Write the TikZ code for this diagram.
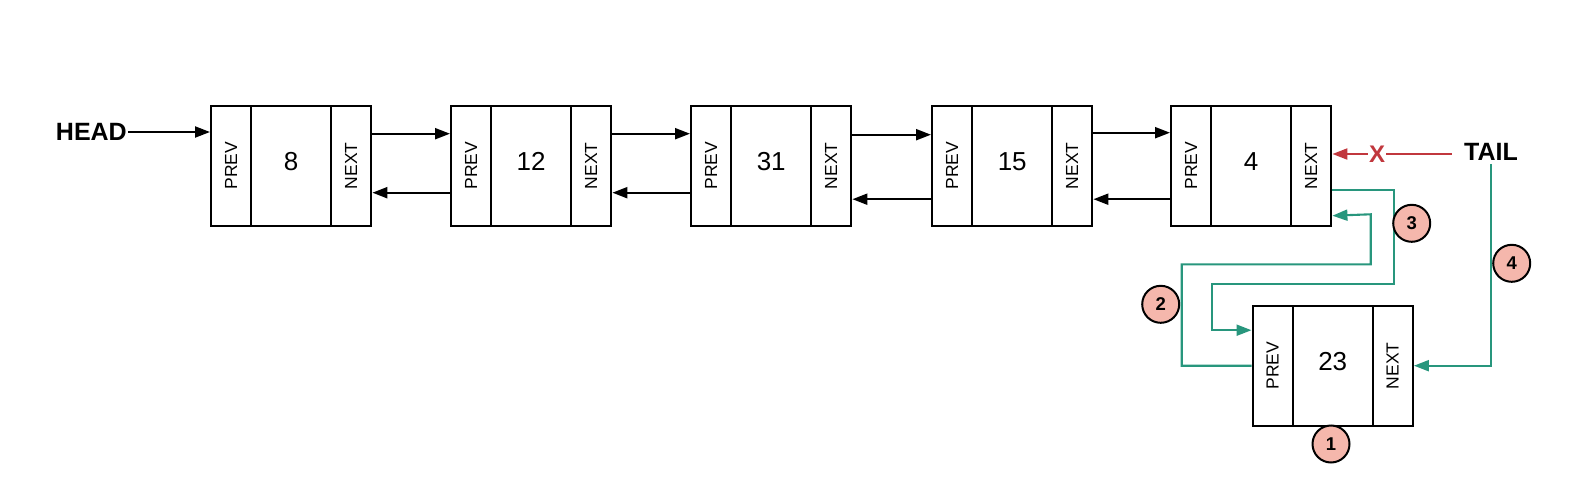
\documentclass[tikz,border=0pt]{standalone}
\usepackage{fontspec}
\setmainfont{Liberation Sans}
\usepackage{graphicx}
\usetikzlibrary{arrows.meta}
\definecolor{tgreen}{RGB}{40,150,125}
\definecolor{tred}{RGB}{193,55,61}
\definecolor{salmon}{RGB}{245,183,172}
\tikzset{
  cell/.style={draw, line width=2.4pt, inner sep=0pt, minimum height=120pt, anchor=north west},
  side/.style={cell, minimum width=40pt, font=\fontsize{17.5}{17.5}\selectfont},
  mid/.style={cell, minimum width=80pt, font=\fontsize{26}{26}\selectfont, text height=18.5pt, text depth=9.5pt},
  arr/.style={-{Triangle[length=15pt,width=11pt]}, line width=2.1pt},
  garr/.style={arr, draw=tgreen, color=tgreen, line width=2.1pt},
  badge/.style={circle, draw, line width=2pt, fill=salmon, minimum size=37pt, inner sep=0pt, font=\bfseries\fontsize{18.5}{18.5}\selectfont},
  lbl/.style={font=\bfseries\fontsize{25}{25}\selectfont}
}
\newcommand{\listel}[4]{%
  \node[side] (#1p) at (#2,#3) {\rotatebox{90}{PREV}};
  \node[mid] (#1v) at (#2+40,#3) {#4};
  \node[side] (#1n) at (#2+120,#3) {\rotatebox{90}{NEXT}};
}
\begin{document}
\begin{tikzpicture}[x=1pt,y=-1pt]
\useasboundingbox (0,0) rectangle (1571,503);
\listel{a}{210}{104.5}{8}
\listel{b}{450}{104.5}{12}
\listel{c}{690}{104.5}{31}
\listel{d}{931}{104.5}{15}
\listel{e}{1170}{104.5}{4}
\listel{n}{1251.5}{304.5}{23}

\node[lbl, anchor=east, inner sep=1pt] (head) at (128,132) {HEAD};
\draw[arr] (head.east) -- (head.east -| ap.west);

\draw[arr] ([yshift=32pt]an.east) -- ([yshift=32pt]bp.west);
\draw[arr] ([yshift=32pt]bn.east) -- ([yshift=32pt]cp.west);
\draw[arr] ([yshift=31pt]cn.east) -- ([yshift=31pt]dp.west);
\draw[arr] ([yshift=33pt]dn.east) -- ([yshift=33pt]ep.west);

\draw[arr] ([yshift=-27pt]bp.west) -- ([yshift=-27pt]an.east);
\draw[arr] ([yshift=-27pt]cp.west) -- ([yshift=-27pt]bn.east);
\draw[arr] ([yshift=-33.5pt]dp.west) -- ([yshift=-33.5pt]cn.east);
\draw[arr] ([yshift=-33.5pt]ep.west) -- ([yshift=-33.5pt]dn.east);

\node[lbl, inner sep=3pt] (tail) at (1491,152) {TAIL};
\node[font=\bfseries\fontsize{24}{24}\selectfont, text=tred, inner sep=1pt] (xm) at (1377,154) {X};
\draw[tred, line width=2.1pt] ([xshift=-9pt]tail.west |- xm.east) -- (xm.east);
\draw[arr, tred] (xm.west) -- (xm.west -| en.east);

\draw[garr] ([yshift=-24pt]en.east) -- ++(62,0) |- (1211.7,284.3) |- ([yshift=35.5pt]np.west);
\draw[garr] (np.west) -| (1181.7,264.3) -| (1370.7,214.3) -- ([yshift=-50pt]en.east);
\draw[garr] (tail.south) |- (nn.east);

\node[badge] (b1) at (1331,444) {1};
\node[badge] (b2) at (1160.7,304.3) {2};
\node[badge] (b3) at (1411.7,223.3) {3};
\node[badge] (b4) at (1511.7,263.3) {4};
\end{tikzpicture}
\end{document}
